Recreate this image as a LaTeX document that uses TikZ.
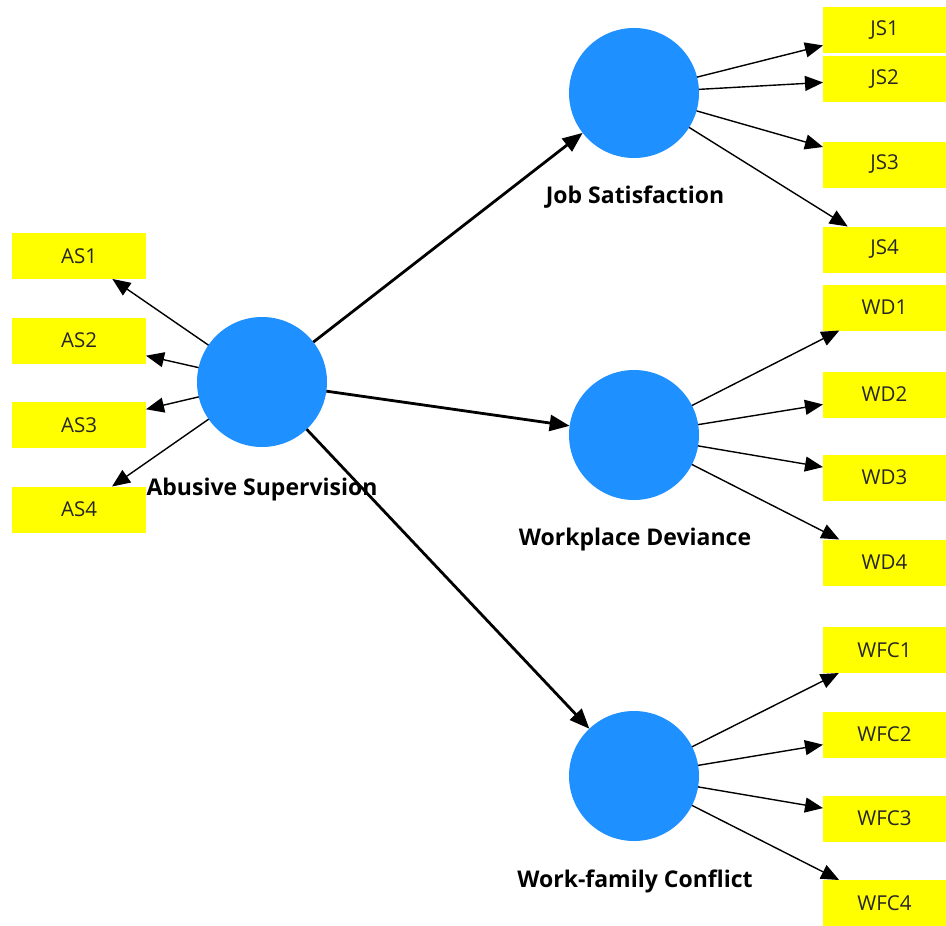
\documentclass[tikz,border=0pt]{standalone}
\usepackage{fontspec}
\setmainfont{Open Sans}
\usetikzlibrary{arrows.meta}
\definecolor{lvblue}{RGB}{30,144,255}
\definecolor{mvyellow}{RGB}{255,255,0}
\begin{document}
\begin{tikzpicture}[x=1pt,y=-1pt,
  latent/.style={circle,fill=lvblue,minimum size=130pt,inner sep=0pt,outer sep=0pt},
  indL/.style={fill=mvyellow,minimum width=134pt,minimum height=46pt,inner sep=0pt,outer sep=0pt,font=\fontsize{20.5}{22}\selectfont,text=black!85},
  indR/.style={indL,minimum width=123pt},
  lbl/.style={font=\bfseries\fontsize{23}{26}\selectfont,inner sep=0pt},
  strpath/.style={line width=2.8pt,-{Triangle[length=20pt,width=16pt]}},
  loading/.style={line width=1.4pt,-{Triangle[length=18pt,width=15pt]}}
]
\useasboundingbox (0,0) rectangle (946,926);
\fill[white] (0,0) rectangle (946,926);

% latent variables
\node[latent] (AS) at (262,382) {};
\node[latent] (JS) at (634,93) {};
\node[latent] (WD) at (634,435) {};
\node[latent] (WFC) at (634,776) {};

% labels
\node[lbl] (ASl) at (262,490) {Abusive Supervision};
\node[lbl] (JSl) at (635,197) {Job Satisfaction};
\node[lbl] (WDl) at (635,540) {Workplace Deviance};
\node[lbl] (WFCl) at (635,881) {Work-family Conflict};

% indicators
\node[indL] (AS1) at (79,256) {AS1};
\node[indL] (AS2) at (79,340.5) {AS2};
\node[indL] (AS3) at (79,425) {AS3};
\node[indL] (AS4) at (79,509.5) {AS4};

\node[indR] (JS1) at (884.5,30) {JS1};
\node[indR] (JS2) at (884.5,79) {JS2};
\node[indR] (JS3) at (884.5,164.5) {JS3};
\node[indR] (JS4) at (884.5,249.5) {JS4};

\node[indR] (WD1) at (884.5,307.5) {WD1};
\node[indR] (WD2) at (884.5,394.5) {WD2};
\node[indR] (WD3) at (884.5,477.5) {WD3};
\node[indR] (WD4) at (884.5,562.5) {WD4};

\node[indR] (WFC1) at (884.5,650) {WFC1};
\node[indR] (WFC2) at (884.5,734.5) {WFC2};
\node[indR] (WFC3) at (884.5,818.5) {WFC3};
\node[indR] (WFC4) at (884.5,903) {WFC4};

% structural paths
\draw[strpath] (AS) -- (JS);
\draw[strpath] (AS) -- (WD);
\draw[strpath] (AS) -- (WFC);

% loadings
\foreach \i in {1,2,3,4} {
  \draw[loading] (AS) -- (AS\i);
  \draw[loading] (JS) -- (JS\i);
  \draw[loading] (WD) -- (WD\i);
  \draw[loading] (WFC) -- (WFC\i);
}
\end{tikzpicture}
\end{document}
